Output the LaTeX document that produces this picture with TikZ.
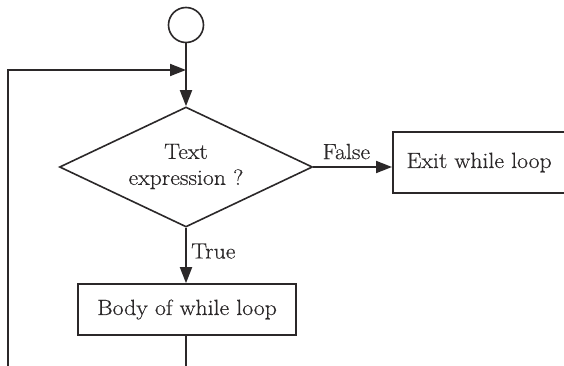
\documentclass[tikz,border=0pt]{standalone}
\usepackage{fontspec}
\setmainfont{Latin Modern Roman}[FakeStretch=1.08,FakeBold=0.4]
\usetikzlibrary{shapes.geometric,arrows.meta}
\definecolor{ink}{HTML}{2B2829}
\begin{document}
\begin{tikzpicture}[x=1pt,y=-1pt,
  every node/.style={text=ink,font=\fontsize{22}{27}\selectfont},
  line/.style={draw=ink,line width=1.8pt},
  flow/.style={line,-{Stealth[length=16pt,width=12pt,inset=0pt]}},
  box/.style={draw=ink,line width=1.6pt,rectangle,inner sep=0pt},
  decision/.style={draw=ink,line width=1.6pt,diamond,inner sep=0pt,align=center}]
\clip (0,0) rectangle (564,366);
\fill[white] (0,0) rectangle (564,366);

% start terminal
\node[draw=ink,line width=1.6pt,circle,minimum size=35pt,inner sep=0pt] (start) at (186,25) {};

% loop condition
\node[decision,minimum width=253pt,minimum height=120pt] (cond) at (186,167) {};
\node (condtxt) at (186,166.5) [align=center] {Text\\[-1pt]expression ?};

% exit and body
\node[box,anchor=west,minimum height=61pt,minimum width=190pt] (exit) at (392,162.5) {};
\node[anchor=west] (exittxt) at (403,162.5) {Exit while loop};
\node[box,minimum width=218pt,minimum height=51pt] (body) at (187,309.5) {Body of while loop};

% helper points for the loop-back path
\coordinate (join) at (186,70);
\coordinate (backbot) at (8,366);
\coordinate (bottom) at (0,366);

\draw[line] (start.south) -- (join);
\draw[flow] (join) -- (cond.north);
\draw[flow] (backbot) |- (join);
\draw[flow] (cond.east) -- node[pos=0.42,above=3.5pt] (falselbl) {False} (cond.east -| exit.west);
\draw[flow] (cond.south) -- node[pos=0.42,right=1pt] (truelbl) {True} (cond.south |- body.north);
\draw[line] (cond.south |- body.south) -- (cond.south |- bottom);
\end{tikzpicture}
\end{document}
